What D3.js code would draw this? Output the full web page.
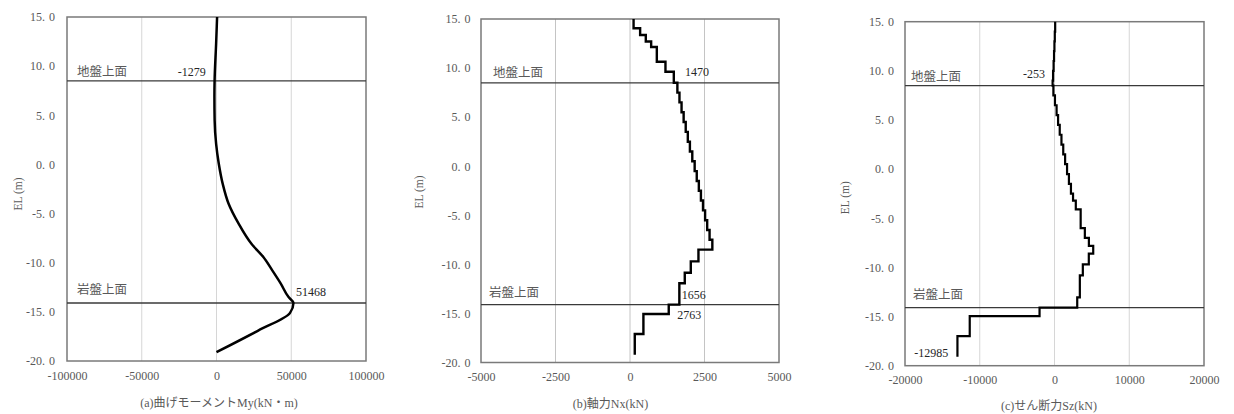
<!DOCTYPE html>
<html>
<head>
<meta charset="utf-8">
<script src="https://cdn.jsdelivr.net/npm/d3@7"></script>
<style>
  html, body { margin: 0; padding: 0; background: #fff; }
  svg { display: block; }
  text { font-family: 'Liberation Serif', 'Noto Sans CJK JP', serif; }
</style>
</head>
<body>
<svg id="chart" width="1234" height="414"></svg>
<script>
// ---------------- DATA ----------------
const elevationTicks = [15, 10, 5, 0, -5, -10, -15, -20];
const groundEL = 8.5;
const rockEL = -14.1;
const groundLabel = "地盤上面";
const rockLabel = "岩盤上面";
const yAxisLabel = "EL (m)";

// (a) bending moment My (kN·m) — smooth curve
const momentTicks = [-100000, -50000, 0, 50000, 100000];
const momentEL = [15, 12.3, 8.5, 6.9, 4.5, 2.1, 0.1, -2.0, -4.0, -6.0, -8.1, -9.4, -10.8, -12.1, -13.5, -14.1, -15.1, -16.9, -19.1];
const momentMy = [400, -250, -1279, -1400, -1250, -250, 1500, 4200, 8100, 14700, 23500, 31200, 37400, 42900, 48200, 51468, 49200, 27900, 0];
const momentTitle = "(a)曲げモーメントMy(kN・m)";
const momentNotes = ["-1279", "51468"];

// (b) axial force Nx (kN) — stepped per element
const axialTicks = [-5000, -2500, 0, 2500, 5000];
const axialBounds = [15, 14.05, 13.37, 12.7, 12.15, 10.65, 9.63, 8.5, 7.5, 6.5, 5.5, 4.5, 3.5, 2.5, 1.5, 0.5, -0.5, -1.5, -2.5, -3.5, -4.5, -5.5, -6.5, -7.5, -8.5, -9.7, -10.85, -11.93, -14.1, -15.06, -17.1, -19.2];
const axialNx = [120, 340, 530, 710, 900, 1190, 1470, 1590, 1660, 1730, 1800, 1870, 1940, 2010, 2090, 2170, 2240, 2310, 2380, 2450, 2520, 2590, 2670, 2763, 2297, 2040, 1838, 1656, 1300, 450, 160];
const axialTitle = "(b)軸力Nx(kN)";
const axialNotes = ["1470", "1656", "2763"];

// (c) shear force Sz (kN) — stepped per element
const shearTicks = [-20000, -10000, 0, 10000, 20000];
const shearBounds = [15, 14, 13, 12, 11, 10, 9, 8.5, 7.5, 6.5, 5.5, 4.5, 3.5, 2.5, 1.5, 0.5, -0.5, -1.5, -2.5, -3.2, -4.1, -6.0, -7.0, -7.8, -8.6, -9.7, -10.8, -13.05, -14.1, -14.96, -17.0, -19.1];
const shearSz = [90, 40, -10, -60, -120, -190, -253, -150, 60, 280, 480, 700, 930, 1170, 1420, 1680, 1930, 2200, 2480, 2850, 3500, 4060, 4600, 5180, 4590, 3790, 3390, 3040, -2000, -11340, -12985];
const shearTitle = "(c)せん断力Sz(kN)";
const shearNotes = ["-253", "-12985"];

// ---------------- DRAW ----------------
const svg = d3.select("#chart");
const labelGrey = "#595959";
const noteColor = "#262626";

function stepPoints(bounds, vals) {
  const pts = [];
  vals.forEach((v, i) => { pts.push([v, bounds[i]]); pts.push([v, bounds[i + 1]]); });
  return pts;
}

function drawPanel(cfg) {
  const g = svg.append("g");
  const x = d3.scaleLinear().domain([cfg.xTicks[0], cfg.xTicks[cfg.xTicks.length - 1]]).range([cfg.left, cfg.right]);
  const y = d3.scaleLinear().domain([15, -20]).range([cfg.top, cfg.bottom]);

  // vertical gridlines
  g.selectAll("line.grid").data(cfg.xTicks.slice(1, -1)).enter().append("line")
    .attr("x1", d => x(d)).attr("x2", d => x(d))
    .attr("y1", cfg.top).attr("y2", cfg.bottom)
    .attr("stroke", cfg.gridColor).attr("stroke-width", 1);

  // frame
  g.append("rect").attr("x", cfg.left).attr("y", cfg.top)
    .attr("width", cfg.right - cfg.left).attr("height", cfg.bottom - cfg.top)
    .attr("fill", "none").attr("stroke", "#7a7a7a").attr("stroke-width", 1.5);

  // ground / rock lines
  [groundEL, rockEL].forEach(el => {
    g.append("line").attr("x1", cfg.left).attr("x2", cfg.right)
      .attr("y1", y(el)).attr("y2", y(el))
      .attr("stroke", "#3a3a3a").attr("stroke-width", 1.3);
  });

  // y axis
  const ya = g.append("g").attr("transform", `translate(${cfg.left},0)`)
    .call(d3.axisLeft(y).tickValues(elevationTicks).tickSize(0).tickPadding(cfg.yPad).tickFormat(d => d.toFixed(1)));
  ya.select(".domain").remove();
  ya.selectAll("text").attr("fill", labelGrey).style("font-size", "12px").each(function () {
    const t = d3.select(this);
    const s = t.text();
    const i = s.indexOf(".");
    t.text(null);
    t.append("tspan").text(s.slice(0, i + 1));
    t.append("tspan").attr("dx", 4).text(s.slice(i + 1));
  });

  // x axis
  const xa = g.append("g").attr("transform", `translate(0,${cfg.bottom})`)
    .call(d3.axisBottom(x).tickValues(cfg.xTicks).tickSize(0).tickPadding(cfg.xPad).tickFormat(d => String(d)));
  xa.select(".domain").remove();
  xa.selectAll("text").attr("fill", labelGrey).style("font-size", "12px");

  // data line
  const line = d3.line().x(d => x(d[0])).y(d => y(d[1])).curve(cfg.curve || d3.curveLinear);
  g.append("path").datum(cfg.points).attr("d", line)
    .attr("fill", "none").attr("stroke", "#000").attr("stroke-width", cfg.lineWidth)
    .attr("stroke-linejoin", "miter");

  // ground/rock text
  g.append("text").attr("x", cfg.left + cfg.gLab[0]).attr("y", y(groundEL) + cfg.gLab[1])
    .attr("fill", labelGrey).style("font-size", "12.5px").text(groundLabel);
  g.append("text").attr("x", cfg.left + cfg.rLab[0]).attr("y", y(rockEL) + cfg.rLab[1])
    .attr("fill", labelGrey).style("font-size", "12.5px").text(rockLabel);

  // value notes
  cfg.notes.forEach(n => {
    g.append("text").attr("x", n.x).attr("y", n.y).attr("text-anchor", n.anchor || "start")
      .attr("fill", noteColor).style("font-size", "12px").text(n.text);
  });

  // axis titles
  g.append("text").attr("x", cfg.titleX).attr("y", cfg.titleY).attr("text-anchor", "middle")
    .attr("fill", labelGrey).style("font-size", "12px").text(cfg.title);
  g.append("text").attr("transform", `translate(${cfg.ylabX},${cfg.ylabY}) rotate(-90)`)
    .attr("text-anchor", "middle").attr("dy", "0.35em")
    .attr("fill", labelGrey).style("font-size", "11.5px").text(yAxisLabel);
}

drawPanel({
  left: 67, right: 366, top: 17, bottom: 361, xTicks: momentTicks, gridColor: "#d6d6d6",
  yPad: 12, xPad: 10, lineWidth: 2.5,
  points: momentEL.map((e, i) => [momentMy[i], e]), curve: d3.curveMonotoneY,
  gLab: [10, -4.5], rLab: [10, -9],
  notes: [{ text: momentNotes[0], x: 205.7, y: 76, anchor: "end" }, { text: momentNotes[1], x: 296, y: 296 }],
  title: momentTitle, titleX: 219, titleY: 407, ylabX: 18, ylabY: 194
});

drawPanel({
  left: 481, right: 779, top: 19, bottom: 362.5, xTicks: axialTicks, gridColor: "#c4c4c4",
  yPad: 10.5, xPad: 10, lineWidth: 2.4,
  points: stepPoints(axialBounds, axialNx),
  gLab: [12, -5.5], rLab: [8, -8],
  notes: [{ text: axialNotes[0], x: 685, y: 76 }, { text: axialNotes[1], x: 681.7, y: 299 }, { text: axialNotes[2], x: 677.3, y: 319 }],
  title: axialTitle, titleX: 610.5, titleY: 408, ylabX: 419, ylabY: 192
});

drawPanel({
  left: 905, right: 1204, top: 21.7, bottom: 365.7, xTicks: shearTicks, gridColor: "#d6d6d6",
  yPad: 11, xPad: 10, lineWidth: 2.2,
  points: stepPoints(shearBounds, shearSz),
  gLab: [6, -5], rLab: [8, -8.5],
  notes: [{ text: shearNotes[0], x: 1045, y: 77.7, anchor: "end" }, { text: shearNotes[1], x: 914.3, y: 357 }],
  title: shearTitle, titleX: 1049, titleY: 410, ylabX: 845.3, ylabY: 197.7
});
</script>
</body>
</html>
